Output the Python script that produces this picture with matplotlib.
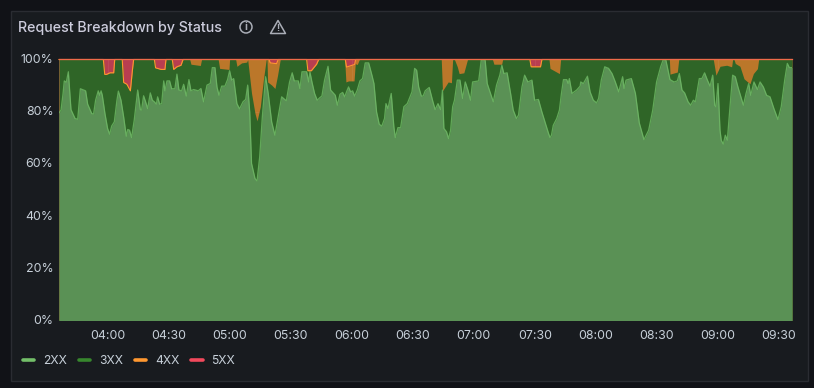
import matplotlib
matplotlib.use("Agg")
import matplotlib.pyplot as plt
from matplotlib.lines import Line2D
from matplotlib.patches import Rectangle, Ellipse, Polygon
from matplotlib.ticker import FuncFormatter
from matplotlib.transforms import ScaledTranslation

plt.rcParams['font.family'] = ['Inter', 'DejaVu Sans']

# minutes after 03:36 and cumulative percentage of each stacked boundary
time_2xx = [0,1,2,2.6,3.6,4.6,5.9,7.9,9.2,10.5,13.1,14.1,16.1,17,18,19.3,20,20.7,21.3,22.6,23.9,24.9,25.9,27.2,28.5,29.2,30.5,31.8,33.1,33.8,34.7,35.7,37,38.7,40,40.6,41.6,42.6,43.6,44.9,45.9,46.9,47.9,48.5,49.5,50.5,51.5,52.1,53.1,54.4,55.4,57,58,59,60.3,61.3,62.6,63.9,64.9,66.2,68.5,69.8,71.1,72.8,74.4,75.4,76.7,77.7,78.7,80,81.6,82.9,83.9,84.9,85.9,87.5,88.8,90.5,91.8,92.8,93.8,94.7,96.4,97.4,98.7,100,101.6,102.9,104.6,106.2,107.5,109.5,111.8,113.4,114.7,115.7,117.7,
            118.5,119.5,121.8,122.8,123.4,124.4,125.7,127,128.3,129.3,130.6,132.3,133.6,134.9,135.9,136.9,138.2,139.5,140.5,141.4,142.4,143.4,144.4,145.4,146.7,148,149.3,150.6,152.3,153.9,154.9,156.2,157.5,158.8,160.1,160.8,161.8,163.4,164.7,165.4,166.7,168,169.6,171.3,173.6,174.9,175.9,176.9,178.2,179.1,180.1,182.1,183.7,185,186.4,187.7,188.6,189.3,190.6,191.6,192.6,193.6,194.5,195.9,197.2,198.5,199.8,201.1,202.4,203.4,206.4,207.7,209.6,210.6,212.2,213.6,215.2,216.8,217.8,218.8,220.4,222.1,223.4,225,226,227.7,229,230.6,232.6,233.9,235.8,237.5,239.5,240.8,
            241.5,242.2,243.1,244.8,246.1,247.1,248.1,249.7,250.4,251,252.3,254.6,256.3,256.6,257.9,259.9,261.2,262.8,264.4,265.4,266.7,268.4,270.3,272,273.6,275.3,277.2,277.9,278.9,281.5,283.5,285.4,287.7,290,292,293.9,295.9,297.2,298.5,299.5,300.5,302.5,304.1,305.1,306.4,307.7,309.4,310.7,312,313,314.9,316.2,317.5,318.9,320.2,321.5,322.5,323.1,324.1,325.1,325.7,326.7,327.7,328.7,330,331.3,332.6,333.9,336.6,337.9,339.2,340.2,341.8,343.5,344.8,346.4,348,349.7,351.6,353.6,355.2,356.9,358.2,359.2,360.5]
pct_2xx = [79.6,80.6,87,91.8,91.3,95.3,80.8,77.4,77.1,88.8,88,82.9,79.3,79.1,84.4,88,86.3,88,86.3,79.3,73.6,71.4,74.5,76.1,84.4,87.9,84.4,78,70.6,73.2,72.9,70.1,76.8,88.3,80.8,80.6,86.1,83.8,81.2,87.2,84.4,83.8,82.9,85.7,82.9,83.1,91.8,88,91.8,91.8,88.8,88.8,94.4,88.3,88,90.5,86,92.3,88,88.5,88,88.9,83.8,90.2,90.8,96.9,96.9,89.5,86.3,89.8,89.8,92.3,95.7,92.1,92.7,83.1,81.1,83.8,84.7,90.2,79.9,60.2,54.4,53.5,62.7,78,93.4,87,76.1,71,76.8,85.7,84.2,91.4,94.9,91.8,91.8,
           88.9,95.3,95.3,91.4,95.3,91.4,87,84.4,85.4,86,92.1,97.4,88.3,87.2,86.3,82.5,86.7,87.4,85.7,87.6,89.5,87.6,88,86,88.3,91.8,92.7,98.7,98.7,94,90.8,79.9,75.2,74.5,77.4,83.1,81.2,87,74.2,70.1,73.9,73.9,81.9,83.1,87.6,96.6,95.9,89.5,86,86,88,89.3,84.4,80.8,83.1,80.8,88.3,73.6,72.3,69.7,72.9,81.9,84.4,92.1,92.1,85.1,91.4,88.3,84.4,91.4,91.8,100,99.7,90.8,87,83.8,90.2,94,97.8,94.6,94.9,87,80.6,77.4,78.7,89.5,94,91.4,92.1,84.4,84.7,79.9,74.8,71.6,
           70.1,71,74.8,77.4,80.6,87,92.3,92.3,90.8,92.7,87,88.3,89.8,91.4,90.8,93.6,87.6,84.4,83.4,85.1,92.1,97.2,96.6,94.6,91.4,87.6,93.4,88.9,92.1,92.7,87,75.7,69.3,72.9,80.6,91.4,97.2,100,99.7,95.9,92.3,91.4,91.8,94.6,88.3,87.2,83.8,82.5,84.4,83.8,92.7,92.7,94.9,92.1,89.8,94,82.5,81.9,90.8,72.9,69.1,67.6,71,69.1,81.9,94,93.4,89.5,82.5,87,90.8,86.3,91.4,88.5,91.4,89.5,86.3,85.7,81.2,77,81.9,92.1,98.5,96.9,96.9]

time_3xx = [0,21.8,22.5,23.4,25.1,26.9,27.4,31.1,31.8,33.4,35.1,36.1,36.7,46.9,47.5,50.2,52.1,52.6,55.7,56.4,58,60,61,64.3,64.9,69.5,70.1,78.3,79,83.6,83.9,86.9,87.5,89.8,92.3,92.8,94.7,96.4,97.4,99,100.5,101.9,102.3,102.6,104.6,106.2,107.5,108.8,
            121.8,122.4,124.1,126.7,127.7,140.5,141.1,142.4,145.1,145.7,146.7,147.7,188,188.6,191.4,193,193.6,194.5,195.9,196.8,199.1,200.9,213.2,213.9,217.7,218.2,231.6,232.2,236.8,237.5,
            241,241.5,246.1,246.7,300.2,300.5,304.1,304.8,321.8,323.1,325.1,328.4,330.8,331.3,332,332.6,334.9,336.9,339.8,341.5,343.5,344.1,360.5]
pct_3xx = [100,100,94.3,94.3,94.9,94.9,100,100,91.2,90.5,88,95.9,100,100,96.8,96.2,96.2,100,100,96.2,97.2,97.8,100,100,98.2,97.7,100,100,96.6,96.2,100,100,97.4,98.7,99,100,87,79.3,76.5,81.9,92.1,100,100,91.4,90.2,88.9,94,100,
           100,95.7,95.7,98.2,100,100,91.4,91.8,91.8,98.4,98.1,100,100,88,91.4,91.1,100,100,97.2,94.6,94.9,100,100,98.2,98.2,100,100,97.2,97.2,100,
           100,96.6,94.6,100,100,94.4,95.2,100,100,94,97.4,97.8,97.2,100,100,98.5,97.4,92.6,90.7,94.6,96.5,100,100]

time_4xx = [0,21.8,22.5,23.4,25.1,26.9,27.4,31.1,31.8,33.4,35.1,36.1,36.7,46.9,47.5,50.2,52.1,52.6,55.7,56.4,58,60,61,103.3,103.9,107,107.8,121.8,122.4,124.1,126.7,127.7,140.8,141.4,145.4,145.9,231.6,232.2,236.8,237.5,360.5]
pct_4xx = [100,100,94.3,94.3,94.9,94.9,100,100,91.2,90.5,88,95.9,100,100,96.8,96.2,96.2,100,100,96.2,97.2,97.8,100,100,98.7,98.4,100,100,95.7,95.7,98.2,100,100,97.1,98.1,100,100,97.2,97.2,100,100]

time_5xx = [0, 360.5]
pct_5xx = [100, 100]

x_ticks = [24, 54, 84, 114, 144, 174, 204, 234, 264, 294, 324, 354]
x_labels = ['04:00','04:30','05:00','05:30','06:00','06:30','07:00','07:30','08:00','08:30','09:00','09:30']
y_ticks = [0, 20, 40, 60, 80, 100]
series_names = ['2XX', '3XX', '4XX', '5XX']

W, H = 814, 388
BG, PANEL, BORDER = '#111217', '#181b1f', '#2a2c32'
TXT = '#c7d0d9'
line_c = {'2XX': '#73bf69', '3XX': '#37872d', '4XX': '#ff9830', '5XX': '#f2495c'}
fill_c = {'2XX': '#5a9155', '3XX': '#2f6527', '4XX': '#bb772a', '5XX': '#b83e50'}

fig = plt.figure(figsize=(W/100, H/100), dpi=100, facecolor=BG)
def fx(x): return x / W
def fy(y): return 1 - y / H

fig.patches.append(Rectangle((fx(10.5), fy(380.5)), 797/W, 370/H, transform=fig.transFigure,
                             facecolor=PANEL, edgecolor=BORDER, linewidth=1, figure=fig, zorder=-5))

L, R, T, B = 59, 792, 59.5, 320.5
ax = fig.add_axes([fx(L), fy(B), (R-L)/W, (B-T)/H], facecolor=PANEL, zorder=2)
ax.set_xlim(0, 360.5)
ax.set_ylim(0, 100)

ax.fill_between(time_5xx, 0, pct_5xx, color=fill_c['5XX'], lw=0, zorder=1)
ax.fill_between(time_4xx, 0, pct_4xx, color=fill_c['4XX'], lw=0, zorder=2)
ax.fill_between(time_3xx, 0, pct_3xx, color=fill_c['3XX'], lw=0, zorder=3)
ax.fill_between(time_2xx, 0, pct_2xx, color=fill_c['2XX'], lw=0, zorder=4)
ax.plot(time_2xx, pct_2xx, color=line_c['2XX'], lw=0.9, alpha=0.75, zorder=6)
ax.plot(time_4xx, pct_4xx, color=line_c['4XX'], lw=0.8, zorder=7, clip_on=False)
ax.plot(time_5xx, pct_5xx, color='#ef6a4a', lw=0.9, zorder=8, clip_on=False)

ax.grid(True, color='white', alpha=0.06, lw=0.8, zorder=5)
ax.set_axisbelow(False)
for s in ax.spines.values():
    s.set_visible(False)
ax.set_xticks(x_ticks, x_labels)
ax.set_yticks(y_ticks)
ax.yaxis.set_major_formatter(FuncFormatter(lambda v, _: f'{v:.0f}%'))
ax.tick_params(length=0, labelsize=8.9, labelcolor=TXT)
ax.tick_params(axis='x', pad=7)
ax.tick_params(axis='y', pad=4)
up = ScaledTranslation(0, 1/100, fig.dpi_scale_trans)
for lab in ax.get_yticklabels():
    lab.set_transform(lab.get_transform() + up)

fig.text(fx(18), fy(28), 'Request Breakdown by Status', fontsize=10.25, color='#ccccdc',
         va='center', ha='left', fontweight='medium')

# header icons
icon_c = '#a9adb6'
fig.patches.append(Ellipse((fx(246), fy(27)), 12/W, 12/H, transform=fig.transFigure, fill=False,
                           edgecolor=icon_c, lw=1.1, figure=fig))
fig.text(fx(246), fy(27), 'i', fontsize=7.5, color=icon_c, ha='center', va='center', fontweight='bold')
fig.patches.append(Polygon([(fx(278), fy(20.5)), (fx(285.5), fy(33.5)), (fx(270.5), fy(33.5))], closed=True,
                           transform=fig.transFigure, fill=False, edgecolor=icon_c, lw=1.1,
                           joinstyle='round', figure=fig))
fig.text(fx(278), fy(28.2), '!', fontsize=6.5, color=icon_c, ha='center', va='center', fontweight='bold')

handles = [Line2D([], [], color=line_c[n], lw=2.6, solid_capstyle='round') for n in series_names]
leg = fig.legend(handles, series_names, loc='lower left', bbox_to_anchor=(fx(23), fy(367)), ncols=4,
                 frameon=False, fontsize=8.7, labelcolor=TXT, handlelength=0.95, handletextpad=0.7,
                 columnspacing=1.0, borderpad=0, borderaxespad=0)

fig.savefig('out.png', dpi=100, facecolor=BG)
